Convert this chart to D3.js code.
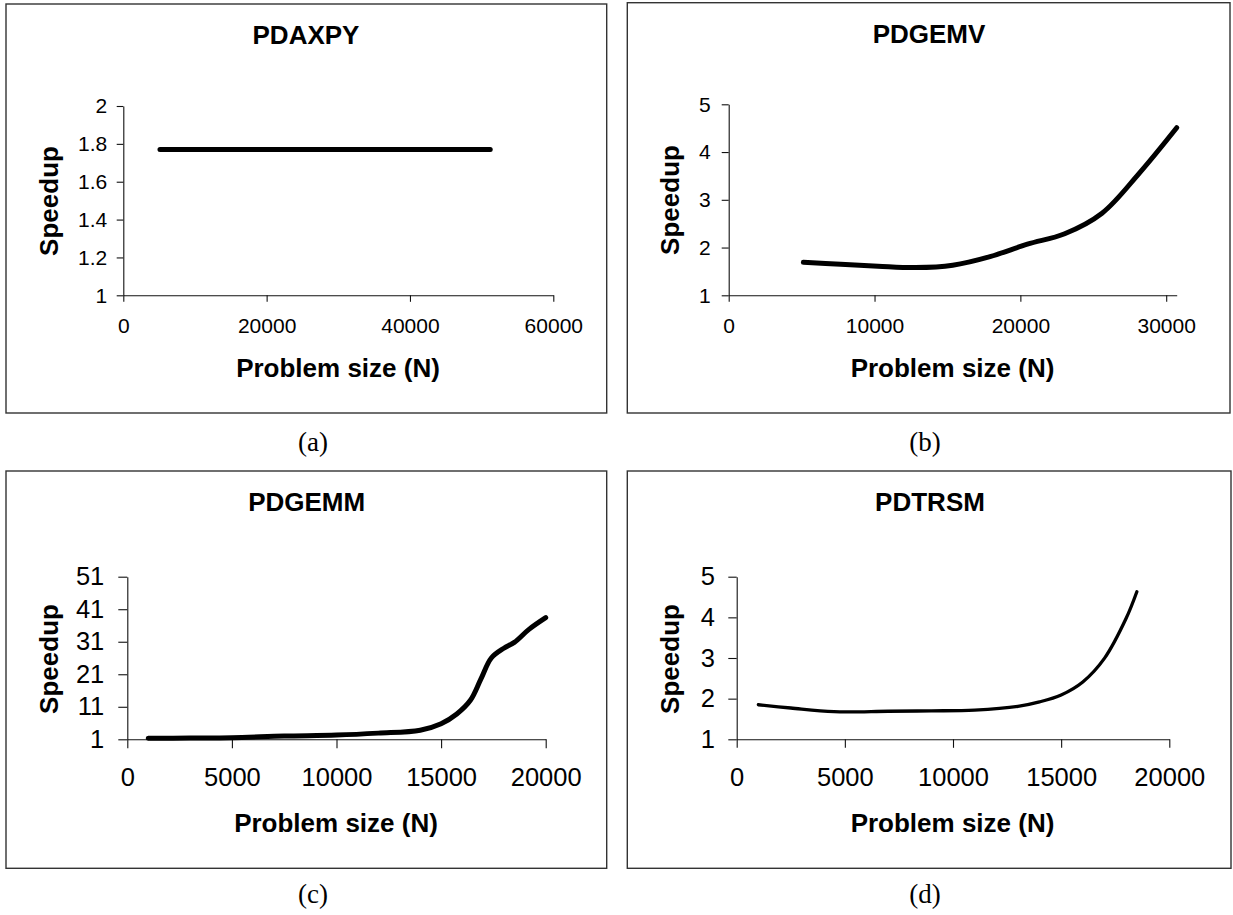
<!DOCTYPE html>
<html>
<head>
<meta charset="utf-8">
<script src="https://cdn.jsdelivr.net/npm/d3@7"></script>
<style>
  html, body { margin: 0; padding: 0; background: #fff; }
  svg { display: block; }
</style>
</head>
<body>
<svg id="chart" width="1233" height="915"></svg>
<script>
// ---------------- DATA ----------------
const panelTitles = ["PDAXPY", "PDGEMV", "PDGEMM", "PDTRSM"];
const captions = ["(a)", "(b)", "(c)", "(d)"];
const yAxisTitle = "Speedup";
const xAxisTitle = "Problem size (N)";

const axpyN       = [5120, 10240, 15360, 20480, 25600, 30720, 35840, 40960, 46080, 51200];
const axpySpeedup = [1.77, 1.77, 1.77, 1.77, 1.77, 1.77, 1.77, 1.77, 1.77, 1.77];

const gemvN       = [5120, 7680, 10240, 12800, 15360, 17920, 20480, 23040, 25600, 28160, 30720];
const gemvSpeedup = [1.69, 1.65, 1.61, 1.58, 1.63, 1.81, 2.07, 2.29, 2.72, 3.56, 4.51];

const gemmN       = [1000, 3000, 5000, 7500, 10000, 12000, 14000, 15000, 15750, 16400, 16900, 17400, 18000, 18500, 19200, 20000];
const gemmSpeedup = [1.3, 1.4, 1.5, 2.0, 2.3, 2.9, 3.8, 5.8, 8.8, 13.0, 19.5, 26.0, 29.0, 30.8, 34.8, 38.4];

const trsmN       = [1000, 2500, 4500, 7000, 9000, 11000, 13000, 14000, 15000, 16000, 17000, 18000, 18500];
const trsmSpeedup = [1.85, 1.77, 1.68, 1.69, 1.70, 1.72, 1.81, 1.92, 2.09, 2.41, 2.99, 3.97, 4.63];

const axpyXTicks = [0, 20000, 40000, 60000];
const axpyYTicks = [1, 1.2, 1.4, 1.6, 1.8, 2];
const gemvXTicks = [0, 10000, 20000, 30000];
const gemvYTicks = [1, 2, 3, 4, 5];
const gemmXTicks = [0, 5000, 10000, 15000, 20000];
const gemmYTicks = [1, 11, 21, 31, 41, 51];
const trsmXTicks = [0, 5000, 10000, 15000, 20000];
const trsmYTicks = [1, 2, 3, 4, 5];

const xDomains = [[0, 60000], [0, 30720], [0, 20000], [0, 20000]];
const yDomains = [[1, 2], [1, 5], [1, 51], [1, 5]];

// ---------------- LAYOUT ----------------
const panels = [
  { n: axpyN, v: axpySpeedup, xt: axpyXTicks, yt: axpyYTicks, curve: d3.curveLinear,
    frame: [6, 4, 606.7, 413], xr: [123.3, 553.3], yr: [295.3, 106],
    title: [306, 44], ytick: 6.6, ypad: 9.4, xtick: 6.5, xlab: 333.3, axt: [338, 376.7],
    sp: [58, 201], font: 21, lw: 5, cap: [313, 450.5] },
  { n: gemvN, v: gemvSpeedup, xt: gemvXTicks, yt: gemvYTicks, curve: d3.curveCatmullRom,
    frame: [627.3, 2.7, 1230, 413], xr: [728.7, 1176.7], yr: [295.3, 104.3],
    title: [929, 43.3], ytick: 7, ypad: 11, xtick: 6.5, xlab: 333.3, axt: [952.5, 376.7],
    sp: [678.6, 200], font: 21, lw: 5, cap: [925, 450.5] },
  { n: gemmN, v: gemmSpeedup, xt: gemmXTicks, yt: gemmYTicks, curve: d3.curveCatmullRom,
    frame: [6, 471, 606.7, 868.3], xr: [127.3, 545.7], yr: [739.3, 576.7],
    title: [306.7, 510.7], ytick: 9, ypad: 14, xtick: 9, xlab: 786, axt: [336, 831.7],
    sp: [58, 659], font: 25.5, lw: 5, cap: [313, 903] },
  { n: trsmN, v: trsmSpeedup, xt: trsmXTicks, yt: trsmYTicks, curve: d3.curveCatmullRom,
    frame: [627.3, 471, 1231, 868.3], xr: [736.7, 1169.3], yr: [739.3, 576.7],
    title: [930, 510.7], ytick: 8.4, ypad: 13.3, xtick: 8.5, xlab: 786, axt: [952.5, 831.7],
    sp: [678.6, 659], font: 25.5, lw: 3.3, cap: [925, 903] }
];

const svg = d3.select("#chart");
const SANS = "'Liberation Sans', Arial, Helvetica, sans-serif";
const SERIF = "'Liberation Serif', 'Times New Roman', serif";

panels.forEach((p, i) => {
  const g = svg.append("g");
  const [fx0, fy0, fx1, fy1] = p.frame;
  g.append("rect")
    .attr("x", fx0).attr("y", fy0)
    .attr("width", fx1 - fx0).attr("height", fy1 - fy0)
    .attr("fill", "none").attr("stroke", "#333").attr("stroke-width", 1.4);

  const x = d3.scaleLinear().domain(xDomains[i]).range(p.xr);
  const y = d3.scaleLinear().domain(yDomains[i]).range(p.yr);

  // Y axis
  const yAxis = d3.axisLeft(y).tickValues(p.yt).tickFormat(d => String(d))
    .tickSize(p.ytick).tickSizeOuter(0).tickPadding(p.ypad);
  const yg = g.append("g").attr("transform", `translate(${p.xr[0]},0)`).call(yAxis);

  // X axis
  const xAxis = d3.axisBottom(x).tickValues(p.xt).tickFormat(d => String(d))
    .tickSize(p.xtick).tickSizeOuter(0);
  const xg = g.append("g").attr("transform", `translate(0,${p.yr[0]})`).call(xAxis);
  xg.selectAll(".tick text").attr("dy", null).attr("y", p.xlab - p.yr[0]);

  [yg, xg].forEach(a => {
    a.selectAll("path.domain").attr("stroke", "#111").attr("stroke-width", 1.1);
    a.selectAll(".tick line").attr("stroke", "#111").attr("stroke-width", 1.1);
    a.selectAll(".tick text").attr("fill", "#000")
      .style("font-family", SANS).style("font-size", p.font + "px");
  });

  // Line
  const pts = p.n.map((n, k) => [n, p.v[k]]);
  const line = d3.line().x(d => x(d[0])).y(d => y(d[1])).curve(p.curve);
  g.append("path").datum(pts)
    .attr("d", line).attr("fill", "none").attr("stroke", "#000")
    .attr("stroke-width", p.lw).attr("stroke-linecap", "round").attr("stroke-linejoin", "round");

  // Title
  g.append("text").attr("x", p.title[0]).attr("y", p.title[1])
    .attr("text-anchor", "middle").style("font-family", SANS)
    .style("font-weight", "bold").style("font-size", "26px").text(panelTitles[i]);

  // X axis title
  g.append("text").attr("x", p.axt[0]).attr("y", p.axt[1])
    .attr("text-anchor", "middle").style("font-family", SANS)
    .style("font-weight", "bold").style("font-size", "26px").text(xAxisTitle);

  // Y axis title
  g.append("text").attr("transform", `translate(${p.sp[0]},${p.sp[1]}) rotate(-90)`)
    .attr("text-anchor", "middle").style("font-family", SANS)
    .style("font-weight", "bold").style("font-size", "26px").text(yAxisTitle);

  // Caption
  svg.append("text").attr("x", p.cap[0]).attr("y", p.cap[1])
    .attr("text-anchor", "middle").style("font-family", SERIF)
    .style("font-size", "27px").text(captions[i]);
});
</script>
</body>
</html>
